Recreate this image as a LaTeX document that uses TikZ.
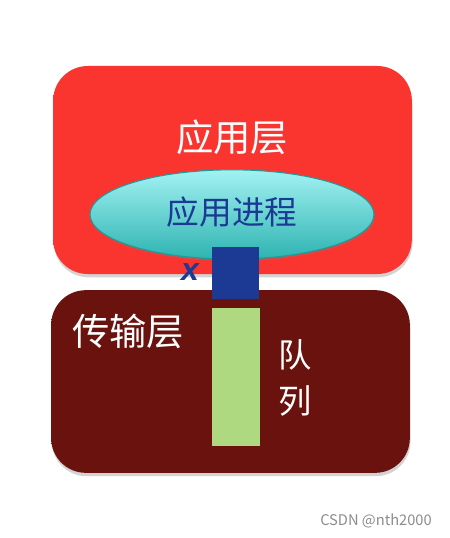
\documentclass[tikz,border=0pt]{standalone}
\usepackage{fontspec}
\setmainfont{Noto Sans CJK SC}
\setsansfont{Liberation Sans}
\usetikzlibrary{shapes.geometric,shadows}
\definecolor{appred}{HTML}{FA3530}
\definecolor{applight}{HTML}{FF6F6A}
\definecolor{transred}{HTML}{69120E}
\definecolor{translight}{HTML}{B04442}
\definecolor{proctop}{HTML}{A3F2F2}
\definecolor{procbot}{HTML}{2DB3B1}
\definecolor{procedge}{HTML}{1A9C9A}
\definecolor{sockblue}{HTML}{1C3A94}
\definecolor{queuegreen}{HTML}{AED981}
\pgfdeclareverticalshading{appshade}{100bp}{color(0bp)=(appred); color(88bp)=(appred); color(100bp)=(applight)}
\pgfdeclareverticalshading{transshade}{100bp}{color(0bp)=(transred!85!black); color(20bp)=(transred); color(86bp)=(transred); color(100bp)=(translight)}
\tikzset{
  layer/.style={rounded corners=26pt, inner sep=0pt, drop shadow={opacity=0.35, shadow xshift=0.5pt, shadow yshift=-2.5pt}},
  label/.style={text=white, font=\fontsize{28}{30}\selectfont, inner sep=0pt},
}
\begin{document}
\begin{tikzpicture}[x=0.75pt, y=-0.75pt]
  \useasboundingbox (0,0) rectangle (449,538);
  % the two layers
  \node[layer, shading=appshade, minimum width=269pt, minimum height=156pt] (app) at (232.5,170) {};
  \node[layer, shading=transshade, minimum width=269pt, minimum height=137pt] (trans) at (230.5,381.5) {};
  % process
  \node[ellipse, draw=procedge, thick, top color=proctop, bottom color=procbot, minimum width=213pt, minimum height=67pt, inner sep=0pt,
        drop shadow={opacity=0.3, shadow xshift=0.5pt, shadow yshift=-1.5pt}] (proc) at (232,214.5) {};
  \node[text=sockblue, font=\fontsize{24.5}{27}\selectfont, inner sep=0pt] (proctext) at (232,212) {应用进程};
  \node[label] (applabel) at (232,137) {应用层};
  % socket and queue
  \node[fill=sockblue, minimum width=35pt, minimum height=39pt, inner sep=0pt] (sock) at (235.5,273) {};
  \node[fill=queuegreen, minimum width=36pt, minimum height=103.5pt, inner sep=0pt] (queue) at (236,377) {};
  \node[text=sockblue, font=\sffamily\bfseries\itshape\fontsize{24}{26}\selectfont, inner sep=0pt] (xlabel) at (190,272) {x};
  \node[label] (translabel) at (128,331) {传输层};
  \node[label, font=\fontsize{25}{28}\selectfont] (queue1) at (295,355) {队};
  \node[label, font=\fontsize{25}{28}\selectfont] (queue2) at (295,401) {列};
  \node[text=black!45, font=\fontsize{11}{12}\selectfont, inner sep=0pt] (mark) at (376,521) {CSDN @nth2000};
\end{tikzpicture}
\end{document}
